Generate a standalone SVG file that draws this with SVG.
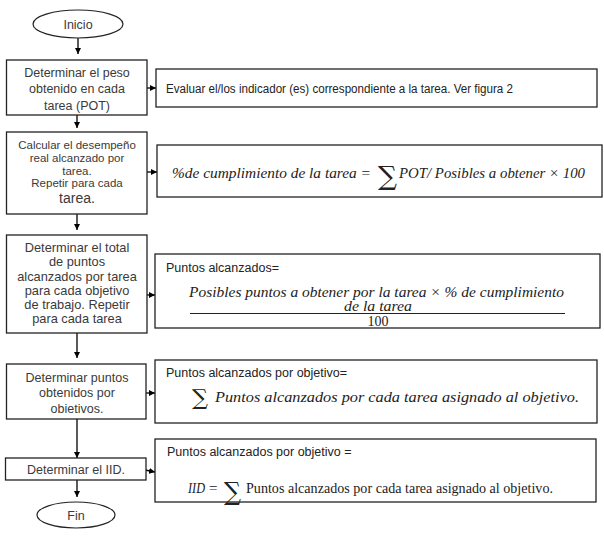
<svg xmlns="http://www.w3.org/2000/svg" width="604" height="536" viewBox="0 0 604 536">
<style>
.box{fill:#fff;stroke:#222;stroke-width:1.3}
.t{font-family:"Liberation Sans",Arial,sans-serif;fill:#3a3a3a;text-anchor:middle}
.l{font-family:"Liberation Sans",Arial,sans-serif;fill:#222;font-size:12.5px}
.m{font-family:"Liberation Serif","Times New Roman",serif;font-style:italic;fill:#222;font-size:14.5px}
.r{font-family:"Liberation Serif","Times New Roman",serif;fill:#222}
.s{font-family:"DejaVu Serif","Liberation Serif",serif;fill:#222}
.c{stroke:#000;stroke-width:1.3;fill:none}
</style>
<defs>
<marker id="ah" viewBox="0 0 10 10" refX="10" refY="5" markerWidth="6" markerHeight="6" markerUnits="userSpaceOnUse" orient="auto">
<path d="M0,0 L10,5 L0,10 z" fill="#000"/>
</marker>
</defs>

<g id="connectors">
<line class="c" x1="78" y1="38" x2="78" y2="54" marker-end="url(#ah)"/>
<line class="c" x1="77" y1="115" x2="77" y2="128" marker-end="url(#ah)"/>
<line class="c" x1="77" y1="214" x2="77" y2="230" marker-end="url(#ah)"/>
<line class="c" x1="77" y1="333" x2="77" y2="358" marker-end="url(#ah)"/>
<line class="c" x1="77" y1="419" x2="77" y2="458" marker-end="url(#ah)"/>
<line class="c" x1="77" y1="480" x2="77" y2="497" marker-end="url(#ah)"/>
<line class="c" x1="147" y1="88" x2="156" y2="88" marker-end="url(#ah)"/>
<line class="c" x1="147" y1="172" x2="157" y2="172" marker-end="url(#ah)"/>
<line class="c" x1="147" y1="295" x2="155" y2="295" marker-end="url(#ah)"/>
<line class="c" x1="146" y1="393" x2="155" y2="393" marker-end="url(#ah)"/>
<line class="c" x1="130" y1="467" x2="155" y2="472" marker-end="url(#ah)"/>
</g>

<g id="inicio">
<ellipse cx="78" cy="24" rx="45" ry="14" fill="#fff" stroke="#222" stroke-width="1.2"/>
<text class="t" x="78" y="28.5" font-size="12.5">Inicio</text>
</g>

<g id="paso1">
<rect class="box" x="6.5" y="60" width="140.5" height="55"/>
<text class="t" x="77" y="77" font-size="12.5">Determinar el peso</text>
<text class="t" x="77" y="93" font-size="12.5">obtenido en cada</text>
<text class="t" x="77" y="110" font-size="12.5">tarea (POT)</text>
</g>

<g id="nota1">
<rect class="box" x="156" y="69" width="441" height="38"/>
<text class="l" x="166" y="93" font-size="11.6" textLength="347" lengthAdjust="spacingAndGlyphs">Evaluar el/los indicador (es) correspondiente a la tarea. Ver figura 2</text>
</g>

<g id="paso2">
<rect class="box" x="6.5" y="132" width="140.5" height="82"/>
<text class="t" x="77" y="149" font-size="11.5">Calcular el desempeño</text>
<text class="t" x="77" y="162" font-size="11.5">real alcanzado por</text>
<text class="t" x="77" y="175" font-size="11.5">tarea.</text>
<text class="t" x="77" y="187" font-size="11.5">Repetir para cada</text>
<text class="t" x="77" y="203" font-size="14">tarea.</text>
</g>

<g id="nota2">
<rect class="box" x="157" y="145" width="445" height="52"/>
<text class="m" x="172" y="177.5" textLength="199" lengthAdjust="spacingAndGlyphs">%de cumplimiento de la tarea =</text>
<text class="s" x="378" y="185" font-size="26" textLength="19" lengthAdjust="spacingAndGlyphs">∑</text>
<text class="m" x="399" y="177.5" textLength="186" lengthAdjust="spacingAndGlyphs">POT/ Posibles a obtener × 100</text>
</g>

<g id="paso3">
<rect class="box" x="6.5" y="235" width="140.5" height="98"/>
<text class="t" x="77" y="252" font-size="12.8">Determinar el total</text>
<text class="t" x="77" y="266" font-size="12.8">de puntos</text>
<text class="t" x="77" y="281" font-size="12.8">alcanzados por tarea</text>
<text class="t" x="77" y="295" font-size="12.8">para cada objetivo</text>
<text class="t" x="77" y="309" font-size="12.8">de trabajo. Repetir</text>
<text class="t" x="77" y="323" font-size="12.8">para cada tarea</text>
</g>

<g id="nota3">
<rect class="box" x="155" y="254" width="445" height="74"/>
<text class="l" x="166" y="272">Puntos alcanzados=</text>
<text class="m" x="189" y="296.5" textLength="375" lengthAdjust="spacingAndGlyphs">Posibles puntos a obtener por la tarea × % de cumplimiento</text>
<text class="m" x="344" y="311" textLength="68" lengthAdjust="spacingAndGlyphs">de la tarea</text>
<line x1="190" y1="313.5" x2="565" y2="313.5" stroke="#222" stroke-width="1"/>
<text class="r" x="378" y="326" font-size="14" text-anchor="middle">100</text>
</g>

<g id="paso4">
<rect class="box" x="6.5" y="364" width="139.5" height="55"/>
<text class="t" x="77" y="382" font-size="12.5">Determinar puntos</text>
<text class="t" x="77" y="397" font-size="12.5">obtenidos por</text>
<text class="t" x="77" y="413" font-size="12.5">obietivos.</text>
</g>

<g id="nota4">
<rect class="box" x="155" y="360" width="442" height="63"/>
<text class="l" x="166" y="377">Puntos alcanzados por objetivo=</text>
<text class="s" x="192" y="405" font-size="22" textLength="16" lengthAdjust="spacingAndGlyphs">∑</text>
<text class="m" x="215" y="401.5" textLength="364" lengthAdjust="spacingAndGlyphs">Puntos alcanzados por cada tarea asignado al objetivo.</text>
</g>

<g id="paso5">
<rect class="box" x="5.5" y="458" width="140.5" height="22"/>
<text class="t" x="76" y="473.5" font-size="12.5">Determinar el IID.</text>
</g>

<g id="nota5">
<rect class="box" x="155" y="439" width="441" height="63"/>
<text class="l" x="167" y="456">Puntos alcanzados por objetivo =</text>
<text class="m" x="188" y="493" font-size="14" textLength="17" lengthAdjust="spacingAndGlyphs">IID</text>
<text class="r" x="209" y="493" font-size="15">=</text>
<text class="s" x="224" y="500" font-size="25" textLength="17" lengthAdjust="spacingAndGlyphs">∑</text>
<text class="r" x="246" y="493" font-size="14" textLength="307" lengthAdjust="spacingAndGlyphs">Puntos alcanzados por cada tarea asignado al objetivo.</text>
</g>

<g id="fin">
<ellipse cx="76" cy="515" rx="39" ry="13" fill="#fff" stroke="#222" stroke-width="1.2"/>
<text class="t" x="76" y="519.5" font-size="12.5">Fin</text>
</g>
</svg>
